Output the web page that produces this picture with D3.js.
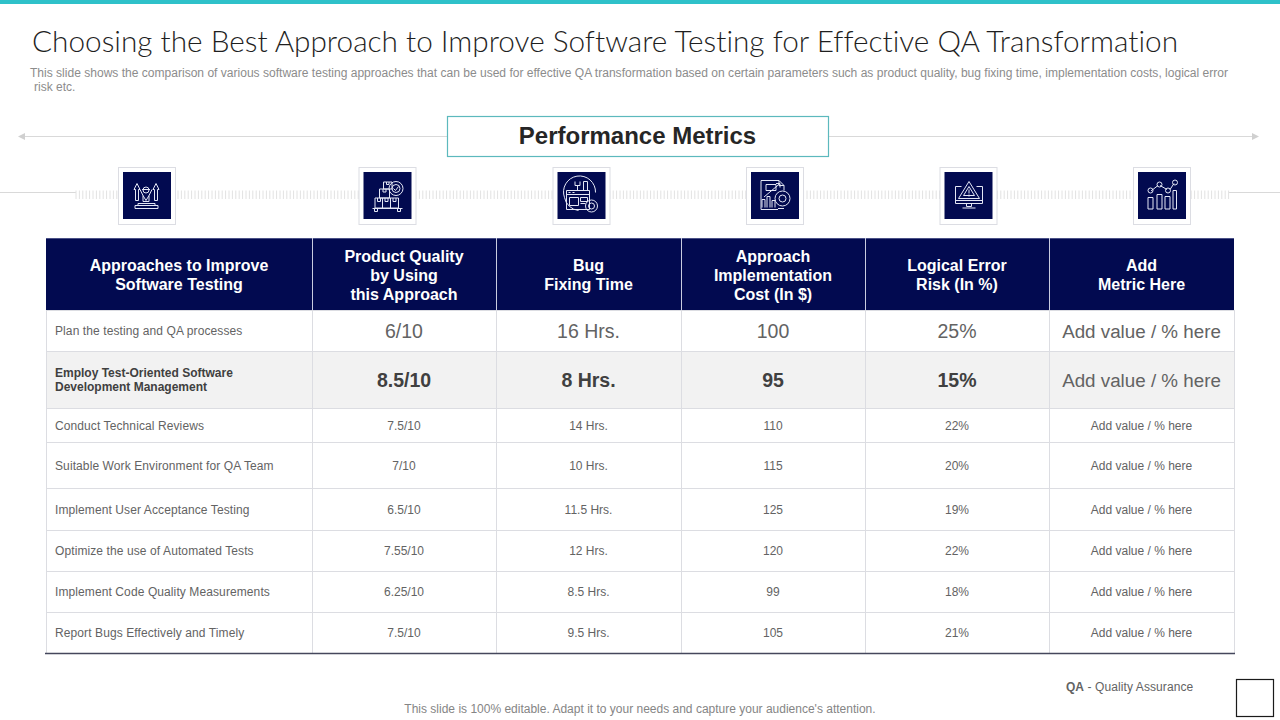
<!DOCTYPE html>
<html>
<head>
<meta charset="utf-8">
<script src="https://cdn.jsdelivr.net/npm/d3@7"></script>
<style>
  html, body { margin: 0; padding: 0; background: #fff; }
  svg { display: block; }
  text { font-family: "Liberation Sans", Arial, sans-serif; font-variant-ligatures: none; }
</style>
</head>
<body>
<div id="chart"></div>
<script>
// Table data
var headers = [
  ["Approaches to Improve", "Software Testing"],
  ["Product Quality", "by Using", "this Approach"],
  ["Bug", "Fixing Time"],
  ["Approach", "Implementation", "Cost (In $)"],
  ["Logical Error", "Risk (In %)"],
  ["Add", "Metric Here"]
];
var approaches = [
  ["Plan the testing and QA processes"],
  ["Employ Test-Oriented Software", "Development Management"],
  ["Conduct Technical Reviews"],
  ["Suitable Work Environment for QA Team"],
  ["Implement User Acceptance Testing"],
  ["Optimize the use of Automated Tests"],
  ["Implement Code Quality Measurements"],
  ["Report Bugs Effectively and Timely"]
];
var quality = ["6/10", "8.5/10", "7.5/10", "7/10", "6.5/10", "7.55/10", "6.25/10", "7.5/10"];
var bugTime = ["16 Hrs.", "8 Hrs.", "14 Hrs.", "10 Hrs.", "11.5 Hrs.", "12 Hrs.", "8.5 Hrs.", "9.5 Hrs."];
var cost = [100, 95, 110, 115, 125, 120, 99, 105];
var errorRisk = ["25%", "15%", "22%", "20%", "19%", "22%", "18%", "21%"];
var addMetric = "Add value / % here";

// Layout of the grid
var colEdges = [46, 312, 496, 681, 865, 1049, 1234];
var rowEdges = [310, 351, 408, 442, 488, 530, 571, 612, 653];
var iconCenters = [147, 387.5, 581.5, 775, 968.5, 1162];

var navy = "#020a50";
var grid = "#dcdde2";

var svg = d3.select("#chart").append("svg")
  .attr("width", 1280)
  .attr("height", 720);

// Small helper so every label is set the same way
function label(x, y, str, size, color, anchor, weight) {
  return svg.append("text")
    .attr("x", x)
    .attr("y", y)
    .attr("font-size", size)
    .attr("fill", color)
    .attr("text-anchor", anchor || "start")
    .attr("font-weight", weight || "normal")
    .attr("dominant-baseline", "central")
    .text(str);
}

// Top bar and titles
svg.append("rect").attr("width", 1280).attr("height", 4).attr("fill", "#2ec1c9");

label(32, 41, "Choosing the Best Approach to Improve Software Testing for Effective QA Transformation", 28.5, "#1f1f1f", "start", 300)
  .style("font-family", "Lato, 'Open Sans', sans-serif")
  .attr("textLength", 1146)
  .attr("lengthAdjust", "spacingAndGlyphs");

label(30, 73, "This slide shows the comparison of various software testing approaches that can be used for effective QA transformation based on certain parameters such as product quality, bug fixing time, implementation costs, logical error", 12, "#8c8c8c")
  .attr("textLength", 1198)
  .attr("lengthAdjust", "spacingAndGlyphs");
label(34, 87, "risk etc.", 12, "#8c8c8c");

// Arrow line behind the heading box
svg.append("line").attr("x1", 24).attr("x2", 1253).attr("y1", 136.5).attr("y2", 136.5)
  .attr("stroke", "#d9d9d9").attr("stroke-width", 1);
svg.append("path").attr("d", "M18,136.5L25,133V140Z").attr("fill", "#d0d0d0");
svg.append("path").attr("d", "M1259,136.5L1252,133V140Z").attr("fill", "#d0d0d0");

svg.append("rect").attr("x", 447.5).attr("y", 116.5).attr("width", 381).attr("height", 40)
  .attr("fill", "#fff").attr("stroke", "#5cb9bd").attr("stroke-width", 1.2);
label(637.5, 135.5, "Performance Metrics", 24, "#262626", "middle", "bold");

// Hatched band running through the icons
svg.append("line").attr("x1", 0).attr("x2", 76).attr("y1", 192.5).attr("y2", 192.5).attr("stroke", "#d9d9d9");
svg.append("line").attr("x1", 1229).attr("x2", 1280).attr("y1", 192.5).attr("y2", 192.5).attr("stroke", "#d9d9d9");
svg.append("g").selectAll("line")
  .data(d3.range(76, 1230, 3.4))
  .join("line")
  .attr("x1", d => d).attr("x2", d => d)
  .attr("y1", 190.5).attr("y2", 199)
  .attr("stroke", "#e2e2e2").attr("stroke-width", 1);

// Icons, drawn around (0,0)
var iconPaths = [
  // person lifting arrows
  "M-10,-12L-13,-6H-11.5V5H-8.5V-6H-7Z M9,-12L6,-6H7.5V5H10.5V-6H12Z M-4,-5.5a3,3 0 1,1 6,0a3,3 0 1,1 -6,0Z M-5,-6H3 M-7,-6L-4,0V6H2V0L5,-6 M-4,0L-1,5L2,0 M-9,8H8 M-9,8V10H8V8 M-12,10H11V13H-12Z",
  // boxes on a pallet and gear
  "M-4,-13.5H4.5V-6.5H-4Z M-1,-13.5V-11H1.5V-13.5 M-8,-6.5H2V2.5H-8Z M-4.5,-6.5V-3.5H-1.5V-6.5 M-12.5,2.5H11V12.5H-12.5Z M-5,2.5V12.5 M3,2.5V12.5 M-10,2.5V6H-7V2.5 M-2.5,2.5V6H0.5V2.5 M5.5,2.5V6H8.5V2.5 M-15,13H15 M-13,13V16H-10V13 M10,13V16H13V13 M15.5,-7a7,7 0 1,1 -14,0a7,7 0 1,1 14,0Z M12.5,-7a4,4 0 1,1 -8,0a4,4 0 1,1 8,0Z M6,-7L8,-5L11,-9",
  // tools and screen inside a circle
  "M-17,2A16,16 0 1,1 14,-3 M-17,2A16,16 0 0,0 -3,15 M-15,-5H8V14H-15Z M-15,-1H8 M-13,-3H-11 M-9,-3H-7 M-12,2H-3V10H-12Z M-1,2H6V6H-1Z M-1,8H4 M-4,-5V-10 M-6.5,-14V-10H-1.5V-14 M2,-5V-14H6V-5 M16,10.5a6,6 0 1,1 -12,0a6,6 0 1,1 12,0Z M13,10.5a3,3 0 1,1 -6,0a3,3 0 1,1 6,0Z",
  // report with chart and gear
  "M-14,-15H4L9,-10V-5 M-14,-15V14H3 M-9,-11H1V-5H-9Z M4,-15V-10H9 M-13,12V4H-10V12 M-8,12V1H-5V12 M-3,12V5H0V12 M-11,1.5L5,-12 M1,-12H5V-8 M15,3a7.5,7.5 0 1,1 -15,0a7.5,7.5 0 1,1 15,0Z M11,3a3.5,3.5 0 1,1 -7,0a3.5,3.5 0 1,1 7,0Z M3,13H9",
  // warning on a monitor
  "M-13,-9H-7 M8,-9H14V8H-13V-9 M0.5,-14L11,3H-10Z M0.5,-9L6,0H-5Z M0.5,-6V-2 M0.5,-1V1 M-13,5H14 M-2,8V11H3V8 M-6,12.5H7",
  // bars with a trend line
  "M-14,2H-9V13.5H-14Z M-5,-1H0V13.5H-5Z M3,1H8V13.5H3Z M11,-5H14.5V13.5H11Z M-11,-4.5L-4,-10 M-2,-10L5,-6 M8,-6L12,-12 M-9,-5a2.5,2.5 0 1,1 -5,0a2.5,2.5 0 1,1 5,0Z M0,-11a2.5,2.5 0 1,1 -5,0a2.5,2.5 0 1,1 5,0Z M8.5,-5a2.5,2.5 0 1,1 -5,0a2.5,2.5 0 1,1 5,0Z M15.5,-13a2.5,2.5 0 1,1 -5,0a2.5,2.5 0 1,1 5,0Z"
];

var icons = svg.append("g").selectAll("g")
  .data(iconCenters)
  .join("g")
  .attr("transform", d => "translate(" + d + ",195.5)");
icons.append("rect").attr("x", -28.5).attr("y", -28).attr("width", 57).attr("height", 57)
  .attr("fill", "#fff").attr("stroke", "#dcdde3").attr("stroke-width", 1);
icons.append("rect").attr("x", -24).attr("y", -23.5).attr("width", 48).attr("height", 47)
  .attr("fill", navy);
icons.append("path")
  .attr("d", (d, i) => iconPaths[i])
  .attr("fill", "none")
  .attr("stroke", "#e4e7f5")
  .attr("stroke-width", 1);

// Header row
svg.append("rect").attr("x", 46).attr("y", 238.5).attr("width", 1188).attr("height", 71.5).attr("fill", navy);
svg.append("line").attr("x1", 46).attr("x2", 1234).attr("y1", 238.5).attr("y2", 238.5).attr("stroke", "#4a5187");

headers.forEach(function(lines, c) {
  var cx = (colEdges[c] + colEdges[c + 1]) / 2;
  var mid = 275 - (lines.length === 2 ? 0.5 : 0);
  lines.forEach(function(line, i) {
    label(cx, mid + (i - (lines.length - 1) / 2) * 19, line, 16, "#ffffff", "middle", "bold");
  });
});

// Highlighted row
svg.append("rect").attr("x", 46).attr("y", rowEdges[1]).attr("width", 1188)
  .attr("height", rowEdges[2] - rowEdges[1]).attr("fill", "#f2f2f2");

// Grid lines
svg.append("g").selectAll("line")
  .data(rowEdges.slice(0, -1))
  .join("line")
  .attr("x1", 46).attr("x2", 1234)
  .attr("y1", d => d + 0.5).attr("y2", d => d + 0.5)
  .attr("stroke", grid);
svg.append("g").selectAll("line")
  .data(colEdges)
  .join("line")
  .attr("x1", d => d + 0.5).attr("x2", d => d + 0.5)
  .attr("y1", 310).attr("y2", 653)
  .attr("stroke", grid);
svg.append("g").selectAll("line")
  .data(colEdges.slice(1, -1))
  .join("line")
  .attr("x1", d => d + 0.5).attr("x2", d => d + 0.5)
  .attr("y1", 238).attr("y2", 310)
  .attr("stroke", "#c9cce0");
svg.append("line").attr("x1", 45).attr("x2", 1235).attr("y1", 653.5).attr("y2", 653.5)
  .attr("stroke", "#45475c").attr("stroke-width", 1.5);

// Body cells
var columns = [quality, bugTime, cost, errorRisk, approaches.map(() => addMetric)];

approaches.forEach(function(lines, r) {
  var cy = (rowEdges[r] + rowEdges[r + 1]) / 2 + 0.5;
  var big = r < 2;
  var bold = r === 1;
  lines.forEach(function(line, i) {
    label(55, cy + (i - (lines.length - 1) / 2) * 14, line, 12, bold ? "#404040" : "#636363", "start", bold ? "bold" : "normal")
      .attr("letter-spacing", bold ? 0 : 0.1);
  });
  columns.forEach(function(col, c) {
    var cx = (colEdges[c + 1] + colEdges[c + 2]) / 2;
    var isAdd = c === 4;
    var size = big ? (isAdd ? 18.8 : 19.5) : 12;
    label(cx, cy, col[r], size,
      bold && !isAdd ? "#404040" : "#636363", "middle", bold && !isAdd ? "bold" : "normal");
  });
});

// Footer
var note = label(1066, 687, "", 12, "#636363");
note.append("tspan").attr("font-weight", "bold").text("QA");
note.append("tspan").text(" - Quality Assurance").attr("letter-spacing", 0.1);
label(640, 708.5, "This slide is 100% editable. Adapt it to your needs and capture your audience's attention.", 12, "#858585", "middle");
svg.append("rect").attr("x", 1236.5).attr("y", 679.5).attr("width", 37).attr("height", 37)
  .attr("fill", "#fff").attr("stroke", "#1a1a1a").attr("stroke-width", 1.2);
</script>
</body>
</html>
